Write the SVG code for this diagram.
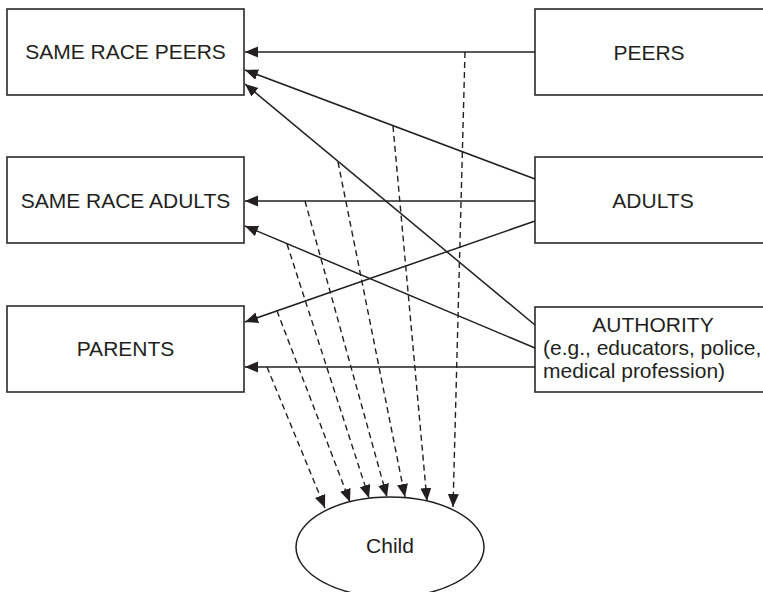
<svg xmlns="http://www.w3.org/2000/svg" width="763" height="592" viewBox="0 0 763 592">
<defs>
<style>
.box{fill:#fff;stroke:#2a2a2a;stroke-width:1.6}
.lbl{font-family:"Liberation Sans",Arial,sans-serif;font-size:21px;fill:#231f20}
.solid{stroke:#231f20;stroke-width:1.5;fill:none;marker-end:url(#ah)}
.dash{stroke:#231f20;stroke-width:1.4;fill:none;stroke-dasharray:6 4;marker-end:url(#ah)}
</style>
<marker id="ah" markerUnits="userSpaceOnUse" markerWidth="14" markerHeight="12" refX="13" refY="5.5" orient="auto">
<path d="M0,0 L13,5.5 L0,11 z" fill="#231f20"/>
</marker>
</defs>
<rect width="763" height="592" fill="#fff"/>
<g id="same-race-peers"><rect class="box" x="7" y="9" width="237" height="86"/><text class="lbl" x="125.5" y="59" text-anchor="middle">SAME RACE PEERS</text></g>
<g id="same-race-adults"><rect class="box" x="7" y="157" width="237" height="86"/><text class="lbl" x="125.5" y="208" text-anchor="middle">SAME RACE ADULTS</text></g>
<g id="parents"><rect class="box" x="7" y="306" width="237" height="86"/><text class="lbl" x="125.5" y="356" text-anchor="middle">PARENTS</text></g>
<g id="peers"><rect class="box" x="535" y="9" width="240" height="86"/><text class="lbl" x="649" y="60" text-anchor="middle">PEERS</text></g>
<g id="adults"><rect class="box" x="535" y="157" width="240" height="86"/><text class="lbl" x="653" y="208" text-anchor="middle">ADULTS</text></g>
<g id="authority"><rect class="box" x="535" y="307" width="240" height="85"/><text class="lbl" x="653" y="332" text-anchor="middle">AUTHORITY</text><text class="lbl" x="543" y="355">(e.g., educators, police,</text><text class="lbl" x="543" y="378">medical profession)</text></g>
<g id="child"><ellipse cx="390" cy="547" rx="94" ry="50" fill="#fff" stroke="#231f20" stroke-width="1.5"/><text class="lbl" x="390" y="553" text-anchor="middle">Child</text></g>
<g id="connectors">
<line class="solid" x1="535" y1="52" x2="245" y2="52"/>
<line class="solid" x1="535" y1="179" x2="245" y2="70"/>
<line class="solid" x1="535" y1="325" x2="245" y2="84"/>
<line class="solid" x1="535" y1="201" x2="245" y2="201"/>
<line class="solid" x1="535" y1="348" x2="245" y2="226"/>
<line class="solid" x1="535" y1="221" x2="245" y2="322"/>
<line class="solid" x1="535" y1="367" x2="245" y2="367"/>
<line class="dash" x1="267" y1="367" x2="325" y2="508"/>
<line class="dash" x1="277" y1="311" x2="350" y2="502"/>
<line class="dash" x1="287" y1="244" x2="369" y2="498"/>
<line class="dash" x1="305" y1="201" x2="387" y2="497"/>
<line class="dash" x1="338" y1="162" x2="405" y2="497"/>
<line class="dash" x1="393" y1="126" x2="427" y2="501"/>
<line class="dash" x1="465" y1="52" x2="453" y2="507"/>
</g>
</svg>
